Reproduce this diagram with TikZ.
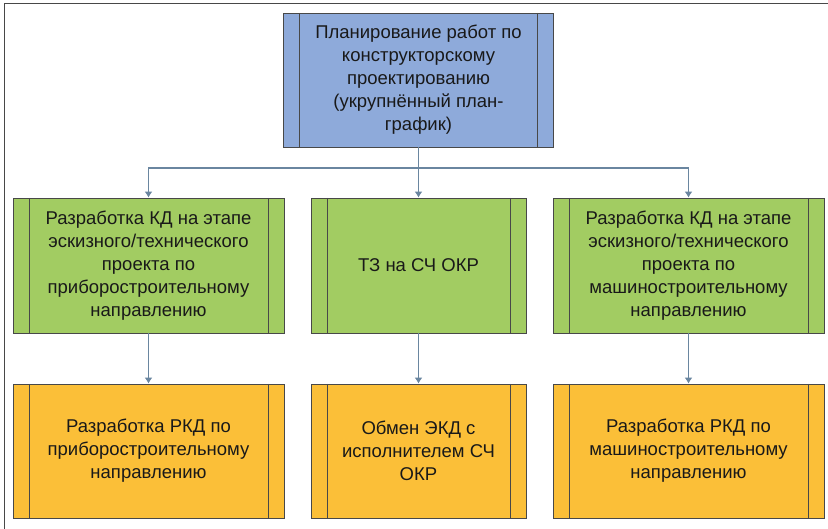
\documentclass[tikz,border=0pt]{standalone}
\usepackage{fontspec}
\setmainfont{Liberation Sans}
\usepackage{tikz}
\usetikzlibrary{arrows.meta}
\definecolor{planc}{RGB}{142,170,218}
\definecolor{kdc}{RGB}{162,204,98}
\definecolor{rkdc}{RGB}{251,191,56}
\definecolor{bordc}{RGB}{72,72,72}
\definecolor{connc}{RGB}{106,134,160}
\definecolor{textc}{RGB}{25,25,25}
\newcommand{\boxfont}{\fontsize{18.5}{23}\selectfont}
\tikzstyle{stage}=[draw=bordc, line width=0.8pt, inner sep=0pt, align=center, text=textc, font=\boxfont,
  path picture={\draw[bordc, line width=0.8pt] ([xshift=16pt]path picture bounding box.north west) -- ([xshift=16pt]path picture bounding box.south west);
    \draw[bordc, line width=0.8pt] ([xshift=-16pt]path picture bounding box.north east) -- ([xshift=-16pt]path picture bounding box.south east);}]
\tikzstyle{wide}=[minimum width=271pt, minimum height=135pt]
\tikzstyle{narrow}=[minimum width=215pt, minimum height=135pt]
\tikzstyle{conn}=[connc, line width=1.2pt, -{Latex[length=6pt,width=8pt]}]

\begin{document}
\begin{tikzpicture}[x=1pt,y=-1pt]
\useasboundingbox (0,0) rectangle (828,529);
\draw[bordc, line width=0.8pt] (4,529) -- (4,3) -- (828,3);
\node[stage, wide, fill=planc, minimum width=270pt, minimum height=134pt] (plan) at (418.5,80) {Планирование работ по\\конструкторскому\\проектированию\\(укрупнённый план-\\график)};
\node[stage, wide, fill=kdc] (kd1) at (148.5,265.5) {Разработка КД на этапе\\эскизного/технического\\проекта по\\приборостроительному\\направлению};
\node[stage, narrow, fill=kdc] (tz) at (418.5,265.5) {ТЗ на СЧ ОКР};
\node[stage, wide, fill=kdc] (kd2) at (688.5,265.5) {Разработка КД на этапе\\эскизного/технического\\проекта по\\машиностроительному\\направлению};
\node[stage, wide, fill=rkdc, minimum height=134pt] (rkd1) at (148.5,451) {Разработка РКД по\\приборостроительному\\направлению};
\node[stage, narrow, fill=rkdc, minimum height=134pt] (ekd) at (418.5,451) {Обмен ЭКД с\\исполнителем СЧ\\ОКР};
\node[stage, wide, fill=rkdc, minimum height=134pt] (rkd2) at (688.5,451) {Разработка РКД по\\машиностроительному\\направлению};
\coordinate (split) at (418.5,168);
\draw[conn, -] (plan) -- (split);
\draw[conn] (split) -| (kd1);
\draw[conn] (split) -- (tz);
\draw[conn] (split) -| (kd2);
\draw[conn] (kd1) -- (rkd1);
\draw[conn] (tz) -- (ekd);
\draw[conn] (kd2) -- (rkd2);
\end{tikzpicture}
\end{document}
